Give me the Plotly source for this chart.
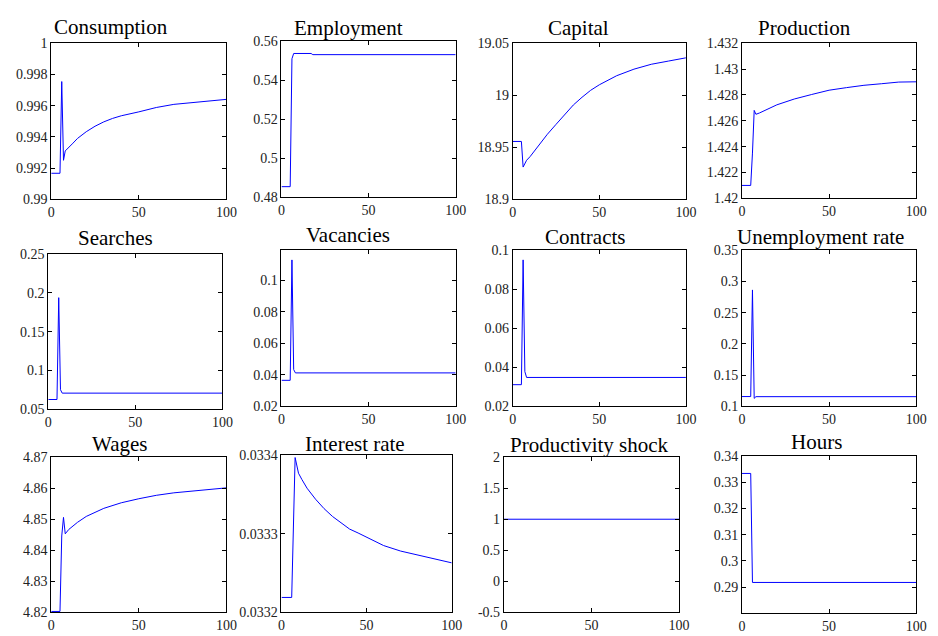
import plotly.graph_objects as go

W, H = 938, 636

# ---------------- data ----------------
x_ticks = [0, 50, 100]
x_tick_text = ["0", "50", "100"]

consumption_x = [0, 5, 6, 7, 8, 10, 12, 15, 20, 25, 30, 35, 40, 50, 60, 70, 80, 90, 100]
consumption_y = [0.99167, 0.99167, 0.99754, 0.9925, 0.9931, 0.99335, 0.99355, 0.9939, 0.99433,
                 0.99468, 0.99496, 0.99518, 0.99535, 0.99560, 0.99588, 0.99608, 0.9962, 0.99631, 0.9964]

employment_x = [0, 5, 6, 7, 17, 18, 100]
employment_y = [0.4855, 0.4855, 0.551, 0.5537, 0.5537, 0.5531, 0.5531]

capital_x = [0, 5, 6, 7, 8, 10, 15, 20, 25, 30, 35, 40, 45, 50, 60, 70, 80, 90, 100]
capital_y = [18.9556, 18.9556, 18.931, 18.934, 18.9375, 18.941, 18.952, 18.9625, 18.972, 18.981,
             18.9906, 18.998, 19.0047, 19.01, 19.0187, 19.025, 19.0297, 19.0328, 19.0359]

production_x = [0, 5, 6, 7, 8, 10, 20, 30, 40, 50, 60, 70, 80, 90, 100]
production_y = [1.421, 1.421, 1.4235, 1.4268, 1.4265, 1.4266, 1.42723, 1.42768, 1.42803, 1.42836,
                1.42856, 1.42874, 1.42886, 1.42899, 1.42901]

searches_x = [0, 5, 6, 7, 8, 100]
searches_y = [0.0626, 0.0626, 0.1938, 0.0752, 0.0708, 0.0708]

vacancies_x = [0, 5, 6, 7, 8, 100]
vacancies_y = [0.0365, 0.0365, 0.1128, 0.0433, 0.0412, 0.0412]

contracts_x = [0, 5, 6, 7, 8, 100]
contracts_y = [0.0311, 0.0311, 0.095, 0.0378, 0.0348, 0.0348]

unemployment_x = [0, 5, 6, 7, 8, 100]
unemployment_y = [0.1157, 0.1157, 0.2863, 0.1128, 0.1155, 0.1155]

wages_x = [0, 5, 6, 7, 8, 10, 15, 20, 30, 40, 50, 60, 70, 80, 90, 100]
wages_y = [4.8203, 4.8203, 4.8446, 4.8506, 4.8453, 4.8467, 4.849, 4.8509, 4.8535, 4.8553,
           4.8566, 4.8577, 4.8585, 4.8591, 4.8596, 4.8601]

interest_x = [0, 6, 8, 9, 10, 12, 15, 20, 25, 30, 35, 40, 45, 50, 60, 70, 80, 90, 100]
interest_y = [0.033219, 0.033219, 0.033397, 0.033385, 0.033377, 0.033369, 0.033358, 0.033344,
              0.033332, 0.033322, 0.033314, 0.033306, 0.033301, 0.033296, 0.033285, 0.033278,
              0.033273, 0.033268, 0.033263]

productivity_x = [0, 100]
productivity_y = [1, 1]

hours_x = [0, 5, 6, 100]
hours_y = [0.3334, 0.3334, 0.2918, 0.2918]

titles = ["Consumption", "Employment", "Capital", "Production",
          "Searches", "Vacancies", "Contracts", "Unemployment rate",
          "Wages", "Interest rate", "Productivity shock", "Hours"]

y_ranges = [[0.99, 1.0], [0.48, 0.56], [18.9, 19.05], [1.42, 1.432],
            [0.05, 0.25], [0.02, 0.119], [0.02, 0.1], [0.1, 0.35],
            [4.82, 4.87], [0.0332, 0.0334], [-0.5, 2], [0.28, 0.34]]

y_tick_vals = [
    [0.99, 0.992, 0.994, 0.996, 0.998, 1.0],
    [0.48, 0.5, 0.52, 0.54, 0.56],
    [18.9, 18.95, 19.0, 19.05],
    [1.42, 1.422, 1.424, 1.426, 1.428, 1.43, 1.432],
    [0.05, 0.1, 0.15, 0.2, 0.25],
    [0.02, 0.04, 0.06, 0.08, 0.1],
    [0.02, 0.04, 0.06, 0.08, 0.1],
    [0.1, 0.15, 0.2, 0.25, 0.3, 0.35],
    [4.82, 4.83, 4.84, 4.85, 4.86, 4.87],
    [0.0332, 0.0333, 0.0334],
    [-0.5, 0, 0.5, 1, 1.5, 2],
    [0.29, 0.3, 0.31, 0.32, 0.33, 0.34],
]
y_tick_text = [
    ["0.99", "0.992", "0.994", "0.996", "0.998", "1"],
    ["0.48", "0.5", "0.52", "0.54", "0.56"],
    ["18.9", "18.95", "19", "19.05"],
    ["1.42", "1.422", "1.424", "1.426", "1.428", "1.43", "1.432"],
    ["0.05", "0.1", "0.15", "0.2", "0.25"],
    ["0.02", "0.04", "0.06", "0.08", "0.1"],
    ["0.02", "0.04", "0.06", "0.08", "0.1"],
    ["0.1", "0.15", "0.2", "0.25", "0.3", "0.35"],
    ["4.82", "4.83", "4.84", "4.85", "4.86", "4.87"],
    ["0.0332", "0.0333", "0.0334"],
    ["-0.5", "0", "0.5", "1", "1.5", "2"],
    ["0.29", "0.3", "0.31", "0.32", "0.33", "0.34"],
]

series_x = [consumption_x, employment_x, capital_x, production_x,
            searches_x, vacancies_x, contracts_x, unemployment_x,
            wages_x, interest_x, productivity_x, hours_x]
series_y = [consumption_y, employment_y, capital_y, production_y,
            searches_y, vacancies_y, contracts_y, unemployment_y,
            wages_y, interest_y, productivity_y, hours_y]

# ---------------- layout (pixel boxes: left, right, top, bottom) ----------------
boxes = [(48, 226, 37, 197), (282, 459, 35, 195), (517, 693, 37, 197), (750, 927, 37, 196),
         (45, 222, 253, 412), (282, 459, 249, 409), (517, 693, 249, 409), (750, 927, 249, 409),
         (48, 226, 461, 620), (282, 455, 459, 620), (508, 686, 461, 620), (750, 927, 460, 621)]
title_pos = [(109, 20), (350, 22), (584, 21), (814, 22),
             (113, 237), (350, 233), (590, 236), (830, 236),
             (117, 448), (357, 448), (595, 449), (826, 446)]

FONT = "Liberation Serif, Times New Roman, serif"

fig = go.Figure()
layout = dict(
    width=W, height=H,
    margin=dict(l=0, r=0, t=0, b=0),
    paper_bgcolor="white", plot_bgcolor="white",
    showlegend=False,
    font=dict(family=FONT, size=14, color="black"),
)
annotations = []
for i in range(12):
    n = "" if i == 0 else str(i + 1)
    l, r, t, b = boxes[i]
    fig.add_trace(go.Scatter(x=series_x[i], y=series_y[i], mode="lines",
                             line=dict(color="#0000ff", width=1),
                             xaxis="x" + n, yaxis="y" + n, hoverinfo="skip"))
    axis_common = dict(showline=True, linecolor="black", linewidth=1, mirror="ticks",
                       ticks="inside", ticklen=4, tickcolor="black", showgrid=False,
                       zeroline=False, tickfont=dict(family=FONT, size=14, color="#222"))
    layout["xaxis" + n] = dict(domain=[l / W, r / W], anchor="y" + n, range=[0, 100],
                               tickmode="array", tickvals=x_ticks, ticktext=x_tick_text,
                               **axis_common)
    layout["yaxis" + n] = dict(domain=[1 - b / H, 1 - t / H], anchor="x" + n,
                               range=y_ranges[i], tickmode="array",
                               tickvals=y_tick_vals[i], ticktext=y_tick_text[i],
                               **axis_common)
    tx, ty = title_pos[i]
    annotations.append(dict(text=titles[i], x=tx / W, y=1 - ty / H, xref="paper", yref="paper",
                            xanchor="center", yanchor="middle", showarrow=False,
                            font=dict(family=FONT, size=21, color="black")))
layout["annotations"] = annotations
fig.update_layout(**layout)
fig.write_html("out.html", config={"displayModeBar": False},
               post_script="document.body.style.margin='0px';document.body.style.overflow='hidden';")
